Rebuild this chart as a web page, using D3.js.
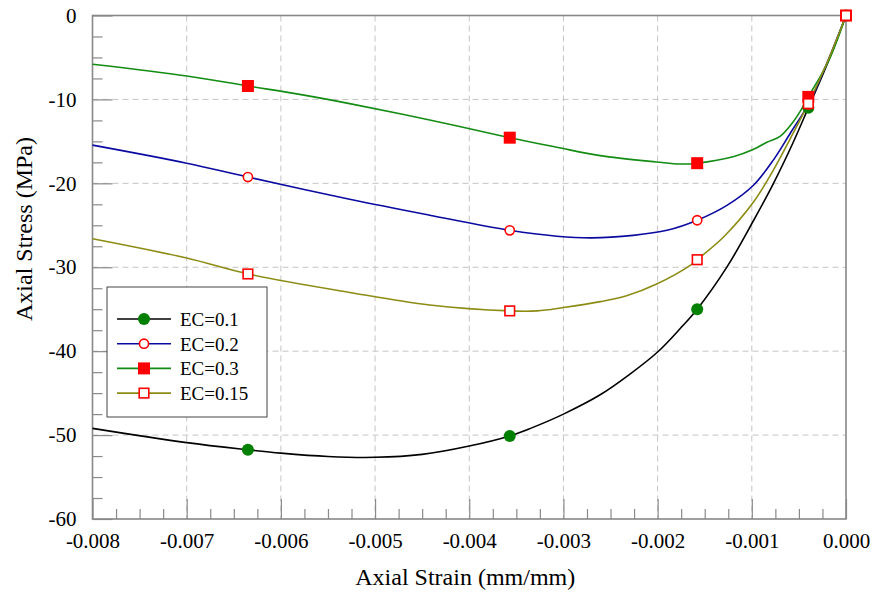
<!DOCTYPE html>
<html>
<head>
<meta charset="utf-8">
<script src="https://cdn.jsdelivr.net/npm/d3@7"></script>
<style>
  body { margin: 0; background: #fff; }
  text { font-family: "Liberation Serif", "Times New Roman", serif; }
</style>
</head>
<body>
<div id="chart"></div>
<script>
// curves, [strain, stress]
const ec01 = [[-0.008,-49.2],[-0.007,-50.9],[-0.00635,-51.75],[-0.006,-52.15],[-0.0055,-52.55],[-0.005,-52.65],
  [-0.0045,-52.3],[-0.004,-51.3],[-0.00357,-50.1],[-0.00335,-49.2],[-0.003,-47.5],[-0.00261,-45.2],[-0.00229,-42.7],
  [-0.002,-40.1],[-0.00176,-37.3],[-0.00158,-35.0],[-0.00126,-29.9],[-0.00098,-24.4],[-0.00077,-20.0],
  [-0.00056,-15.1],[-0.0004,-11.0],[-0.0002,-5.8],[0,0]]
const ec02 = [[-0.008,-15.45],[-0.007,-17.6],[-0.00635,-19.25],[-0.00527,-21.9],[-0.00442,-23.8],[-0.00357,-25.6],
  [-0.00307,-26.3],[-0.0027,-26.5],[-0.00226,-26.2],[-0.0019,-25.6],[-0.00158,-24.4],[-0.00126,-22.6],
  [-0.00098,-20.2],[-0.00077,-17.2],[-0.00059,-14.0],[-0.0004,-10.6],[-0.0002,-5.6],[0,0]]
const ec03 = [[-0.008,-5.8],[-0.007,-7.2],[-0.00635,-8.4],[-0.0058,-9.4],[-0.00527,-10.5],[-0.00442,-12.45],
  [-0.00357,-14.56],[-0.00307,-15.7],[-0.00261,-16.7],[-0.00201,-17.45],[-0.00176,-17.7],[-0.00158,-17.6],
  [-0.00119,-16.8],[-0.00098,-15.95],[-0.00084,-15.1],[-0.0007,-14.4],[-0.00056,-12.66],[-0.00048,-11.3],
  [-0.0004,-9.7],[-0.00018,-5.3],[0,0]]
const ec015 = [[-0.008,-26.6],[-0.007,-28.9],[-0.00635,-30.8],[-0.00527,-33.0],[-0.00442,-34.5],[-0.00357,-35.2],
  [-0.00328,-35.2],[-0.003,-34.8],[-0.00261,-34.1],[-0.00233,-33.4],[-0.00201,-32.0],[-0.00165,-29.75],
  [-0.00158,-29.1],[-0.0013,-26.4],[-0.00098,-22.2],[-0.00077,-18.4],[-0.00056,-14.0],[-0.0004,-10.5],
  [-0.0002,-5.6],[0,0]]

// marker positions
const markStrain = [-0.00635, -0.00357, -0.00158, -0.0004, 0]
const mark01 = [-51.75, -50.1, -35.0, -11.0, 0]
const mark02 = [-19.25, -25.6, -24.4, -10.6, 0]
const mark03 = [-8.4, -14.56, -17.6, -9.7, 0]
const mark015 = [-30.8, -35.2, -29.1, -10.5, 0]

const labels = ["EC=0.1", "EC=0.2", "EC=0.3", "EC=0.15"]
const xTicks = [-0.008, -0.007, -0.006, -0.005, -0.004, -0.003, -0.002, -0.001, 0]
const yTicks = [-60, -50, -40, -30, -20, -10, 0]

const series = [
  { name: labels[0], data: ec01, marks: mark01, color: "#000000", shape: "circle", fill: "#008000", stroke: "none" },
  { name: labels[1], data: ec02, marks: mark02, color: "#0a0aa0", shape: "circle", fill: "#ffffff", stroke: "#ff0000" },
  { name: labels[2], data: ec03, marks: mark03, color: "#138c13", shape: "square", fill: "#ff0000", stroke: "none" },
  { name: labels[3], data: ec015, marks: mark015, color: "#8c8c14", shape: "square", fill: "#ffffff", stroke: "#ff0000" }
]

const W = 877, H = 598
const margin = { top: 15.5, right: 31, bottom: 79, left: 92.5 }
const width = W - margin.left - margin.right
const height = H - margin.top - margin.bottom

const svg = d3.select("#chart").append("svg")
  .attr("width", W).attr("height", H)

const g = svg.append("g")
  .attr("transform", `translate(${margin.left},${margin.top})`)

const x = d3.scaleLinear().domain([-0.008, 0]).range([0, width])
const y = d3.scaleLinear().domain([-60, 0]).range([height, 0])

// dashed grid
g.append("g").selectAll("line")
  .data(xTicks.slice(1, -1))
  .join("line")
  .attr("x1", d => x(d)).attr("x2", d => x(d))
  .attr("y1", 0).attr("y2", height)
  .attr("stroke", "#c4c4c4").attr("stroke-dasharray", "6,4")

g.append("g").selectAll("line")
  .data(yTicks.slice(1, -1))
  .join("line")
  .attr("x1", 0).attr("x2", width)
  .attr("y1", d => y(d)).attr("y2", d => y(d))
  .attr("stroke", "#c4c4c4").attr("stroke-dasharray", "6,4")

// minor ticks, 3 between majors
const xMinor = []
for (let i = 0; i < xTicks.length - 1; i++) {
  for (let k = 1; k < 4; k++) xMinor.push(xTicks[i] + k * 0.00025)
}
const yMinor = []
for (let i = 0; i < yTicks.length - 1; i++) {
  for (let k = 1; k < 4; k++) yMinor.push(yTicks[i] + k * 2.5)
}

const xAxis = g.append("g")
  .attr("transform", `translate(0,${height})`)
  .call(d3.axisBottom(x).tickValues(xTicks).tickSize(-20).tickPadding(14)
    .tickFormat(d => d.toFixed(3)))
xAxis.append("g")
  .call(d3.axisBottom(x).tickValues(xMinor).tickSize(-10).tickFormat(""))

const yAxis = g.append("g")
  .call(d3.axisLeft(y).tickValues(yTicks).tickSize(-20).tickPadding(16)
    .tickFormat(d => String(d)))
yAxis.append("g")
  .call(d3.axisLeft(y).tickValues(yMinor).tickSize(-10).tickFormat(""))

g.selectAll(".domain").remove()
g.selectAll(".tick line").attr("stroke", "#8a8a8a").attr("stroke-width", 1.2)
g.selectAll(".tick text").attr("font-size", "21px").attr("fill", "#000")
  .style("font-family", "'Liberation Serif', 'Times New Roman', serif")

// frame
g.append("rect")
  .attr("width", width).attr("height", height)
  .attr("fill", "none").attr("stroke", "#888").attr("stroke-width", 1.6)

// lines
const line = d3.line()
  .x(d => x(d[0])).y(d => y(d[1]))
  .curve(d3.curveCatmullRom.alpha(0.5))

series.forEach(s => {
  g.append("path")
    .datum(s.data)
    .attr("d", line)
    .attr("fill", "none")
    .attr("stroke", s.color)
    .attr("stroke-width", 1.6)
})

function drawMarker(sel, s, cx, cy) {
  if (s.shape === "circle") {
    sel.append("circle")
      .attr("cx", cx).attr("cy", cy)
      .attr("r", s.stroke === "none" ? 6 : 4.6)
      .attr("fill", s.fill)
      .attr("stroke", s.stroke).attr("stroke-width", 1.6)
  } else {
    const size = s.stroke === "none" ? 12 : 9.6
    sel.append("rect")
      .attr("x", cx - size / 2).attr("y", cy - size / 2)
      .attr("width", size).attr("height", size)
      .attr("fill", s.fill)
      .attr("stroke", s.stroke).attr("stroke-width", 1.6)
  }
}

series.forEach(s => {
  const mg = g.append("g")
  markStrain.forEach((m, i) => drawMarker(mg, s, x(m), y(s.marks[i])))
})

// legend
const legend = svg.append("g").attr("transform", "translate(107,287)")
legend.append("rect")
  .attr("width", 160).attr("height", 130)
  .attr("fill", "#fff").attr("stroke", "#444").attr("stroke-width", 1)

series.forEach((s, i) => {
  const ly = 32 + i * 24.7
  const row = legend.append("g")
  row.append("line")
    .attr("x1", 10).attr("x2", 64)
    .attr("y1", ly).attr("y2", ly)
    .attr("stroke", s.color).attr("stroke-width", 1.6)
  drawMarker(row, s, 37, ly)
  row.append("text")
    .attr("x", 73).attr("y", ly + 7)
    .attr("font-size", "19px")
    .text(s.name)
})

// axis titles
svg.append("text")
  .attr("x", margin.left + width / 2 - 4)
  .attr("y", 585)
  .attr("text-anchor", "middle")
  .attr("font-size", "24px")
  .text("Axial Strain (mm/mm)")

svg.append("text")
  .attr("transform", "translate(32,229) rotate(-90)")
  .attr("text-anchor", "middle")
  .attr("font-size", "24px")
  .text("Axial Stress (MPa)")
</script>
</body>
</html>
